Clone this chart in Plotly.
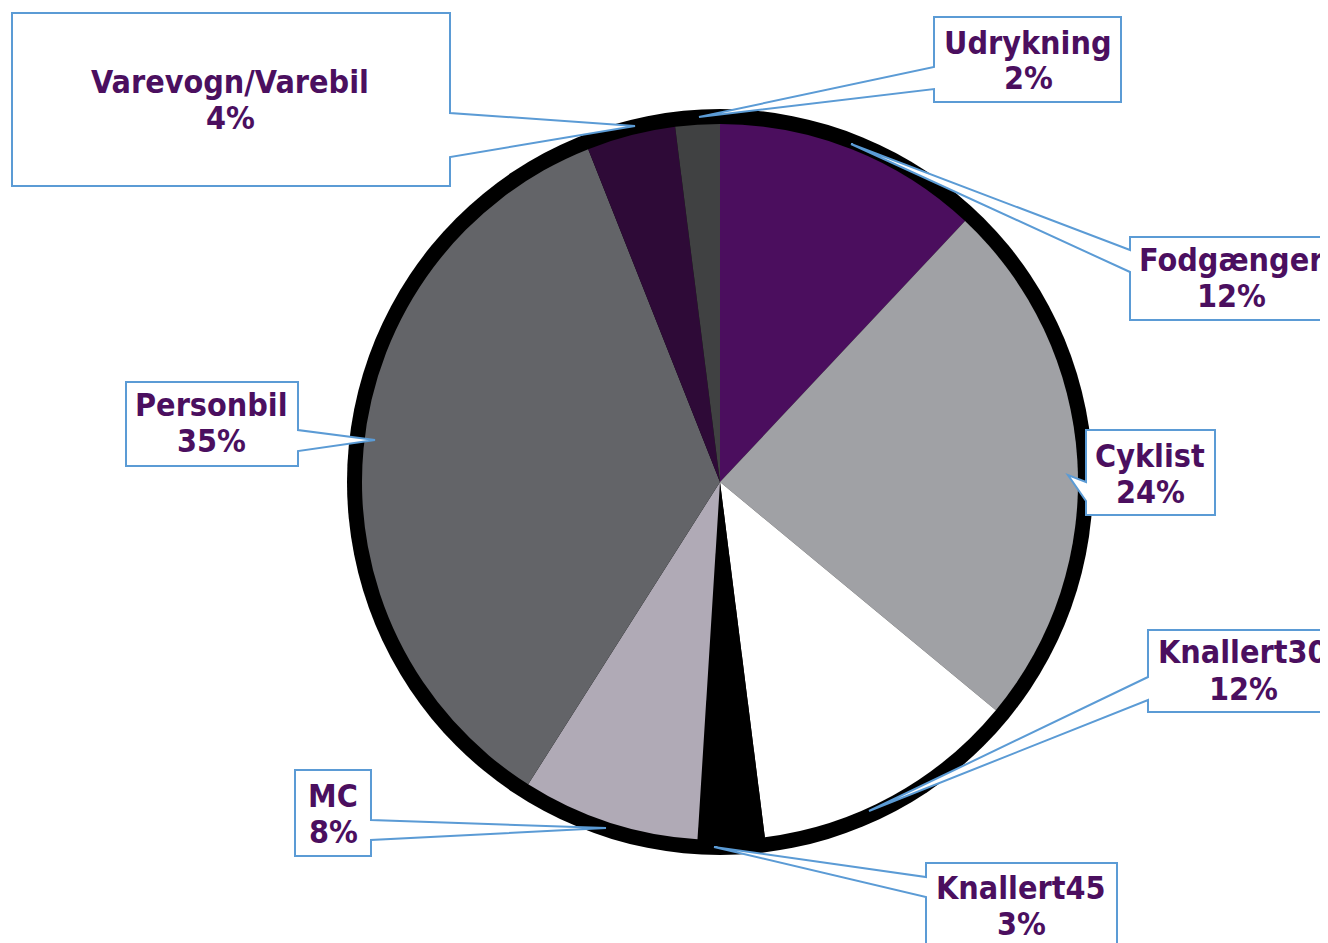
import plotly.graph_objects as go

# ── Data ──────────────────────────────────────────────────────────────────────
categories = ["Fodgænger", "Cyklist", "Knallert30", "Knallert45", "MC",
              "Personbil", "Varevogn/Varebil", "Udrykning"]
shares = [12, 24, 12, 3, 8, 35, 4, 2]
slice_colors = ["#4B0E5E", "#A0A1A5", "#FFFFFF", "#000000", "#B0AAB6",
                "#636468", "#2E0A37", "#404142"]

W, H = 1328, 943
OFF = 8  # page body margin
TEXT = "#4B0F5F"
LINE = "#5B9BD5"
FONT = "DejaVu Sans Condensed, DejaVu Sans, sans-serif"

# callout geometry in pixels: box (x0, y0, x1, y1), side, base y's, tip, text centre
callouts = {
    "Fodgænger":        dict(box=(1130, 237, 1345, 320), side="left",  base=(250, 272), tip=(851, 144), txt=(1231, 260, 296)),
    "Cyklist":          dict(box=(1086, 430, 1215, 515), side="left",  base=(482, 501), tip=(1068, 475), txt=(1150, 456, 492)),
    "Knallert30":       dict(box=(1148, 630, 1345, 712), side="left",  base=(677, 700), tip=(869, 811), txt=(1243, 652, 689)),
    "Knallert45":       dict(box=(926, 863, 1117, 960),  side="left",  base=(877, 897), tip=(714, 847), txt=(1021, 888, 924)),
    "MC":               dict(box=(295, 770, 371, 856),   side="right", base=(820, 840), tip=(606, 828), txt=(333, 796, 832)),
    "Personbil":        dict(box=(126, 382, 298, 466),   side="right", base=(430, 451), tip=(375, 440), txt=(211, 405, 441)),
    "Varevogn/Varebil": dict(box=(12, 13, 450, 186),     side="right", base=(113, 157), tip=(635, 126), txt=(230, 82, 118)),
    "Udrykning":        dict(box=(934, 17, 1121, 102),   side="left",  base=(67, 89),   tip=(699, 117), txt=(1028, 43, 78)),
}

CX, CY, R, R_RIM = 720, 482, 358, 373


def px(x, y):
    return (x - OFF) / W, 1 - (y - OFF) / H


def dom(r):
    (x0, y1), (x1, y0) = px(CX - r, CY - r), px(CX + r, CY + r)
    return dict(x=[x0, x1], y=[y0, y1])


def callout_path(c):
    x0, y0, x1, y1 = c["box"]
    b1, b2 = c["base"]
    tx, ty = c["tip"]
    pts = [(x0, y0), (x1, y0)]
    if c["side"] == "right":
        pts += [(x1, b1), (tx, ty), (x1, b2)]
    pts += [(x1, y1), (x0, y1)]
    if c["side"] == "left":
        pts += [(x0, b2), (tx, ty), (x0, b1)]
    p = [px(*q) for q in pts]
    return "M " + " L ".join(f"{a:.5f},{b:.5f}" for a, b in p) + " Z"


fig = go.Figure()
# black rim behind the pie
fig.add_trace(go.Pie(values=[1], marker=dict(colors=["#000000"]), textinfo="none",
                     hoverinfo="skip", domain=dom(R_RIM), showlegend=False, sort=False))
fig.add_trace(go.Pie(
    labels=categories, values=shares, sort=False, direction="clockwise", rotation=0,
    marker=dict(colors=slice_colors, line=dict(width=0)), textinfo="none",
    hovertemplate="%{label}: %{value}%<extra></extra>",
    domain=dom(R), showlegend=False,
))

shapes, annotations = [], []
for name, val in zip(categories, shares):
    c = callouts[name]
    shapes.append(dict(type="path", xref="paper", yref="paper", path=callout_path(c),
                       fillcolor="white", line=dict(color=LINE, width=2), layer="above"))
    tx, ty1, ty2 = c["txt"]
    for txt, ty in ((name, ty1), (f"{val}%", ty2)):
        x, y = px(tx, ty)
        annotations.append(dict(x=x, y=y, xref="paper", yref="paper", text=txt, showarrow=False,
                                xanchor="center", yanchor="middle",
                                font=dict(family=FONT, size=32, color=TEXT, weight="bold")))

fig.update_layout(
    width=W, height=H, margin=dict(l=0, r=0, t=0, b=0),
    paper_bgcolor="white", plot_bgcolor="white",
    shapes=shapes, annotations=annotations,
)
fig.write_html("out.html")
